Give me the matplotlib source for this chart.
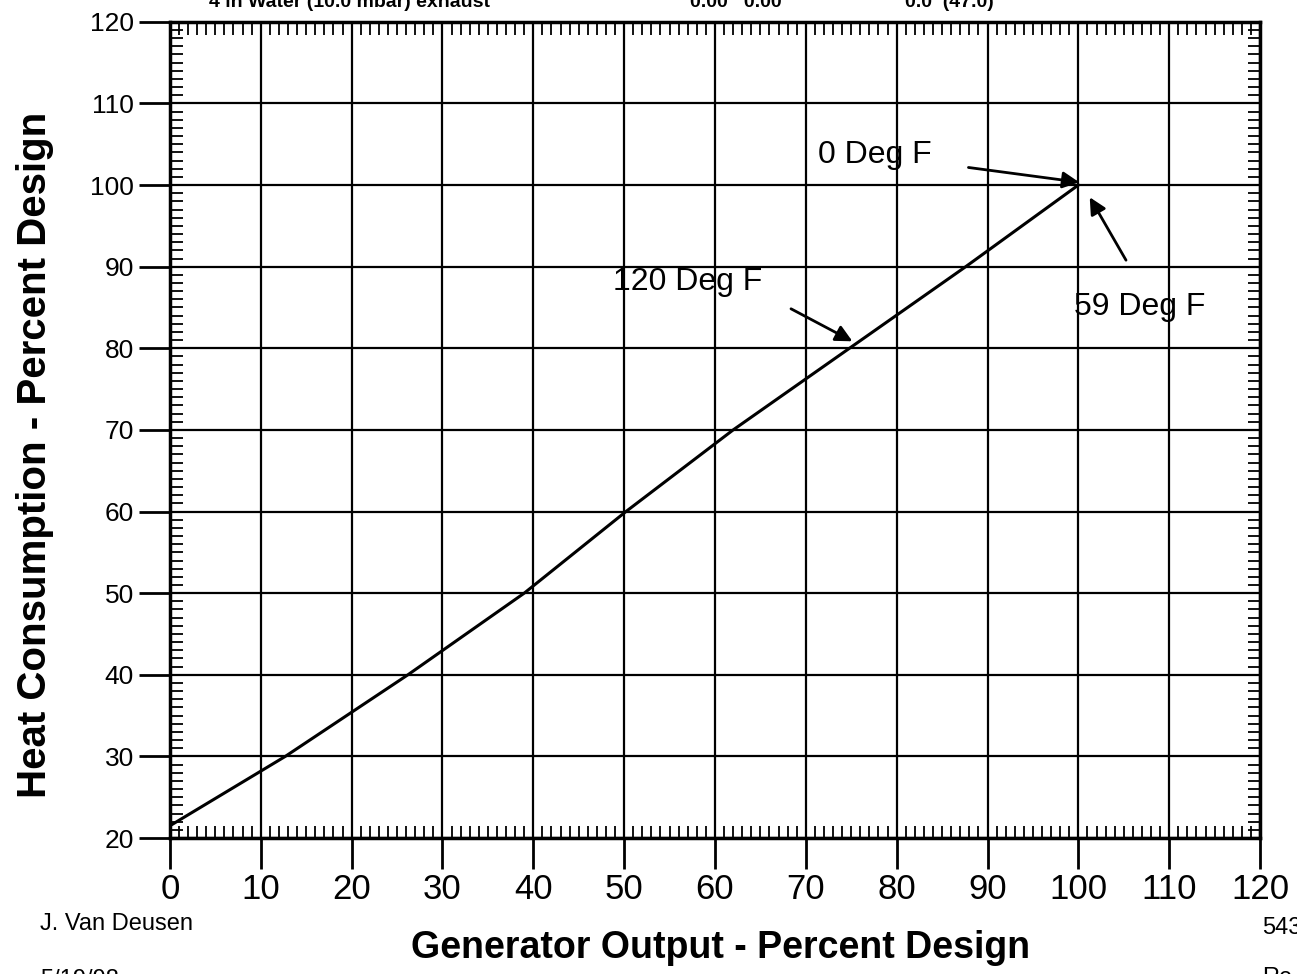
import matplotlib
matplotlib.use("Agg")
import matplotlib.pyplot as plt
from matplotlib.ticker import MultipleLocator

plt.rcParams['font.family'] = ['Liberation Sans', 'DejaVu Sans']

# data (output %, heat consumption %)
output_pct = [0, 12.7, 26.2, 39.0, 50.2, 62.0, 74.8, 87.6, 100]
heat_pct = [21.5, 30, 40, 50, 60, 70, 80, 90, 100]

x_ticks = [0, 10, 20, 30, 40, 50, 60, 70, 80, 90, 100, 110, 120]
y_ticks = [20, 30, 40, 50, 60, 70, 80, 90, 100, 110, 120]

# labels and the points their arrows go to
notes = ["0 Deg F", "120 Deg F", "59 Deg F"]
note_xy = [(100.4, 100.3), (75.4, 80.7), (101.1, 98.8)]
note_text_xy = [(77.6, 103.7), (57.0, 88.1), (106.8, 85.0)]
arrow_tail = [(87.6, 102.2), (68.1, 85.0), (105.4, 90.5)]

fig = plt.figure(figsize=(12.97, 9.74), dpi=100)
ax = fig.add_axes([0.131, 0.1396, 0.8405, 0.838])

ax.plot(output_pct, heat_pct, color="black", lw=2.2)

ax.set_xlim(0, 120)
ax.set_ylim(20, 120)
ax.set_xticks(x_ticks)
ax.set_yticks(y_ticks)
ax.xaxis.set_minor_locator(MultipleLocator(1))
ax.yaxis.set_minor_locator(MultipleLocator(1))
ax.grid(True, which="major", color="black", lw=1.6)
ax.tick_params(which="major", direction="out", length=22, width=2)
ax.tick_params(axis="x", which="major", labelsize=25, pad=3)
ax.tick_params(axis="y", which="major", labelsize=19, pad=4)
ax.tick_params(which="minor", direction="in", length=9, width=1.3,
               top=True, right=True)
for s in ax.spines.values():
    s.set_linewidth(2.5)

# arrows and labels
for txt, xy, txy, tail in zip(notes, note_xy, note_text_xy, arrow_tail):
    ax.annotate("", xy=xy, xytext=tail,
                arrowprops=dict(arrowstyle="-|>", color="black", lw=2,
                                mutation_scale=25))
    ax.text(txy[0], txy[1], txt, fontsize=23, ha="center", va="center")

ax.set_xlabel("Generator Output - Percent Design", fontsize=27,
              fontweight="bold")
ax.xaxis.set_label_coords(0.505, -0.113)
ax.set_ylabel("Heat Consumption - Percent Design", fontsize=29,
              fontweight="bold")
ax.yaxis.set_label_coords(-0.106, 0.47)

# scraps of text cut off at the page edges
fig.text(209 / 1297, 1 - 7 / 974, "4 in Water (10.0 mbar) exhaust", fontsize=14,
         fontweight="bold", va="baseline")
fig.text(690 / 1297, 1 - 7 / 974, "0.00   0.00", fontsize=14,
         fontweight="bold", va="baseline")
fig.text(905 / 1297, 1 - 7 / 974, "0.0  (47.0)", fontsize=14,
         fontweight="bold", va="baseline")
fig.text(40 / 1297, 1 - 924 / 974, "J. Van Deusen", fontsize=17, va="center")
fig.text(40 / 1297, 1 - 980 / 974, "5/19/98", fontsize=17, va="center")
fig.text(1262 / 1297, 1 - 928 / 974, "543", fontsize=17, va="center")
fig.text(1262 / 1297, 1 - 978 / 974, "Re", fontsize=17, va="center")

fig.savefig("out.png", dpi=100)
